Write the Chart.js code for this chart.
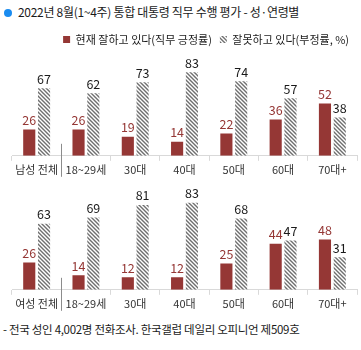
<!DOCTYPE html>
<html>
<head>
<meta charset="utf-8">
<script src="https://cdn.jsdelivr.net/npm/chart.js@4"></script>
<style>
    body { margin: 0; width: 361px; height: 350px; background: #fff; position: relative; overflow: hidden;
           font-family: "Noto Sans CJK KR", "Noto Sans", sans-serif; color: #1a1a1a; }
    #title { position: absolute; left: 4px; top: 3px; font-size: 12px; white-space: nowrap; letter-spacing: -0.3px; }
    #title .dot { display: inline-block; width: 8px; height: 8px; border-radius: 50%; background: #1a8cf0;
                  margin-right: 6px; vertical-align: 0px; }
    #note { position: absolute; left: 3px; top: 321px; font-size: 11.5px; white-space: nowrap; letter-spacing: -0.3px; color: #1a1a1a; }
    .wrap { position: absolute; left: 0; width: 361px; }
    #topWrap { top: 26px; height: 152px; }
    #botWrap { top: 178px; height: 134px; }
</style>
</head>
<body>
<div id="title"><span class="dot"></span>2022년 8월(1~4주) 통합 대통령 직무 수행 평가 - 성·연령별</div>
<div class="wrap" id="topWrap"><canvas id="menChart"></canvas></div>
<div class="wrap" id="botWrap"><canvas id="womenChart"></canvas></div>
<div id="note">- 전국 성인 4,002명 전화조사. 한국갤럽 데일리 오피니언 제509호</div>

<script>
// ── data ──────────────────────────────────────────────
const menLabels = ['남성 전체', '18~29세', '30대', '40대', '50대', '60대', '70대+'];
const womenLabels = ['여성 전체', '18~29세', '30대', '40대', '50대', '60대', '70대+'];
const menPositive = [26, 26, 19, 14, 22, 36, 52];
const menNegative = [67, 62, 73, 83, 74, 57, 38];
const womenPositive = [26, 14, 12, 12, 25, 44, 48];
const womenNegative = [63, 69, 81, 83, 68, 47, 31];
const seriesNames = ['현재 잘하고 있다(직무 긍정률)', '잘못하고 있다(부정률, %)'];

const RED = '#953735';
const FONT = '"Noto Sans CJK KR", "Noto Sans", sans-serif';

// ── hatch pattern ─────────────────────────────────────
function makeHatch() {
    const c = document.createElement('canvas');
    c.width = 4; c.height = 4;
    const g = c.getContext('2d');
    g.fillStyle = '#fff';
    g.fillRect(0, 0, 4, 4);
    g.strokeStyle = '#6f6f6f';
    g.lineWidth = 1.4;
    g.beginPath();
    g.moveTo(-1, -1); g.lineTo(5, 5);
    g.moveTo(-1, 3); g.lineTo(1, 5);
    g.moveTo(3, -1); g.lineTo(5, 1);
    g.stroke();
    return g.createPattern(c, 'repeat');
}
const hatch = makeHatch();

// ── plugins ───────────────────────────────────────────
const valueLabels = {
    id: 'valueLabels',
    afterDatasetsDraw(chart) {
        const ctx = chart.ctx;
        ctx.save();
        ctx.font = '12.5px ' + FONT;
        ctx.textAlign = 'center';
        ctx.textBaseline = 'bottom';
        chart.data.datasets.forEach((ds, i) => {
            ctx.fillStyle = i === 0 ? RED : '#1a1a1a';
            chart.getDatasetMeta(i).data.forEach((bar, j) => {
                ctx.fillText(ds.data[j], bar.x, bar.y - 3);
            });
        });
        ctx.restore();
    }
};

const totalDivider = {
    id: 'totalDivider',
    afterDraw(chart) {
        const x = chart.scales.x;
        const px = (x.getPixelForValue(0) + x.getPixelForValue(1)) / 2;
        const b = chart.chartArea.bottom;
        const ctx = chart.ctx;
        ctx.save();
        ctx.strokeStyle = '#8c8c8c';
        ctx.lineWidth = 1;
        ctx.beginPath();
        ctx.moveTo(Math.round(px) + 0.5, b - 12);
        ctx.lineTo(Math.round(px) + 0.5, b + 21);
        ctx.stroke();
        ctx.restore();
    }
};

function makeChart(id, labels, pos, neg, showLegend, topPad) {
    return new Chart(document.getElementById(id), {
        type: 'bar',
        data: {
            labels: labels,
            datasets: [
                { label: seriesNames[0], data: pos, backgroundColor: RED, borderWidth: 0 },
                { label: seriesNames[1], data: neg, backgroundColor: hatch, borderWidth: 0 }
            ]
        },
        options: {
            responsive: true,
            maintainAspectRatio: false,
            animation: false,
            datasets: { bar: { categoryPercentage: 0.6, barPercentage: 0.82 } },
            layout: { padding: { left: 12, right: 4, top: topPad, bottom: 0 } },
            plugins: {
                legend: {
                    display: showLegend,
                    align: 'end',
                    labels: {
                        boxWidth: 7,
                        boxHeight: 7,
                        padding: 8,
                        color: '#1a1a1a',
                        font: { family: FONT, size: 11 }
                    }
                },
                tooltip: { enabled: false }
            },
            scales: {
                x: {
                    offset: true,
                    grid: { offset: true, drawOnChartArea: false, tickLength: 5, color: '#d9d9d9' },
                    border: { color: '#d9d9d9' },
                    ticks: { color: '#333', padding: 2, font: { family: FONT, size: 11 } }
                },
                y: { display: false, min: 0, max: 100 }
            }
        },
        plugins: [valueLabels, totalDivider]
    });
}

makeChart('menChart', menLabels, menPositive, menNegative, true, 0);
makeChart('womenChart', womenLabels, womenPositive, womenNegative, false, 7);
</script>
</body>
</html>
